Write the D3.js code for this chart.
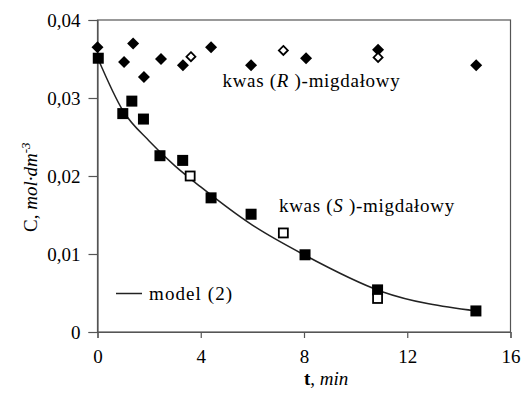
<!DOCTYPE html>
<html><head><meta charset="utf-8">
<script src="https://cdn.jsdelivr.net/npm/d3@7"></script>
<style>body{margin:0;background:#fff}svg{display:block}svg text{font-family:"Liberation Serif","Times New Roman",Times,"DejaVu Serif",serif !important;fill:#000}</style>
</head><body>
<svg id="c" width="523" height="405"></svg>
<script>
// R-mandelic acid, filled diamonds
const rT = [0, 1.03, 1.38, 1.8, 2.46, 3.31, 4.4, 5.95, 8.08, 10.87, 14.67];
const rC = [0.0365, 0.0346, 0.0370, 0.0327, 0.0350, 0.0342, 0.0365, 0.0342, 0.0351, 0.0362, 0.0342];
// R-mandelic acid, open diamonds
const rOpenT = [3.62, 7.2, 10.87];
const rOpenC = [0.0353, 0.0361, 0.0352];
// S-mandelic acid, filled squares
const sT = [0.03, 0.98, 1.33, 1.78, 2.42, 3.30, 4.4, 5.95, 8.04, 10.85, 14.66];
const sC = [0.0351, 0.0280, 0.0296, 0.0273, 0.0226, 0.0220, 0.0172, 0.0151, 0.0099, 0.0054, 0.0027];
// S-mandelic acid, open squares
const sOpenT = [3.59, 7.2, 10.85];
const sOpenC = [0.0200, 0.0127, 0.0043];
// model (2) curve
const mT = [0, 1, 2, 3, 4, 6, 8, 11, 14.66];
const mC = [0.0352, 0.0283, 0.0245, 0.0213, 0.0186, 0.0137, 0.0099, 0.0052, 0.0027];
const xTicks = [0, 4, 8, 12, 16];
const yTicks = [0, 0.01, 0.02, 0.03, 0.04];

const FONT = '"Liberation Serif", "Times New Roman", Times, "DejaVu Serif", serif';
const svg = d3.select("#c");
const L = 97.5, R = 510.5, T = 20, B = 332;
const x = d3.scaleLinear().domain([0, 16]).range([L, R]);
const y = d3.scaleLinear().domain([0, 0.04]).range([B, T]);
const fmt = d => d === 0 ? "0" : d3.format(".2f")(d).replace(".", ",");

// frame
svg.append("rect").attr("x", L).attr("y", T).attr("width", R - L).attr("height", B - T)
  .attr("fill", "none").attr("stroke", "#555").attr("stroke-width", 1.2);

const xa = svg.append("g").attr("transform", `translate(0,${B})`)
  .call(d3.axisBottom(x).tickValues(xTicks).tickSize(6).tickPadding(12).tickFormat(d3.format("d")));
const ya = svg.append("g").attr("transform", `translate(${L},0)`)
  .call(d3.axisLeft(y).tickValues(yTicks).tickSize(9).tickPadding(8).tickFormat(fmt));
[xa, ya].forEach(a => {
  a.attr("font-family", FONT);
  a.select(".domain").attr("stroke", "#555").attr("stroke-width", 1.2);
  a.selectAll(".tick line").attr("stroke", "#555").attr("stroke-width", 1.2);
  a.selectAll("text").attr("font-size", 19).style("font-family", FONT).attr("fill", "#000");
});

// model curve
const line = d3.line().x((d, i) => x(mT[i])).y((d, i) => y(mC[i])).curve(d3.curveMonotoneX);
svg.append("path").datum(mC).attr("d", line).attr("fill", "none").attr("stroke", "#222").attr("stroke-width", 1.5);

const g = svg.append("g");
g.selectAll(".sq").data(sC).join("rect")
  .attr("x", (d, i) => x(sT[i]) - 5.5).attr("y", d => y(d) - 5.5)
  .attr("width", 11).attr("height", 11).attr("fill", "#000");
g.selectAll(".osq").data(sOpenC).join("rect")
  .attr("x", (d, i) => x(sOpenT[i]) - 4.5).attr("y", d => y(d) - 4.5)
  .attr("width", 9).attr("height", 9).attr("fill", "#fff").attr("stroke", "#000").attr("stroke-width", 1.8);
const dia = (cx, cy, r) => `M${cx},${cy - r}L${cx + r},${cy}L${cx},${cy + r}L${cx - r},${cy}Z`;
g.selectAll(".dm").data(rC).join("path")
  .attr("d", (d, i) => dia(x(rT[i]), y(d), 6)).attr("fill", "#000");
g.selectAll(".odm").data(rOpenC).join("path")
  .attr("d", (d, i) => dia(x(rOpenT[i]), y(d), 4.5)).attr("fill", "#fff").attr("stroke", "#000").attr("stroke-width", 1.8);

function txt(xp, yp) {
  return svg.append("text").attr("x", xp).attr("y", yp).attr("font-size", 19).style("font-family", FONT);
}
function label(xp, yp, letter) {
  const t = txt(xp, yp).attr("letter-spacing", 0.7);
  t.append("tspan").text("kwas (");
  t.append("tspan").attr("font-style", "italic").text(letter);
  t.append("tspan").text(" )-migdałowy");
}
label(222.5, 86.5, "R");
label(279, 212, "S");

svg.append("line").attr("x1", 116).attr("x2", 142).attr("y1", 293.5).attr("y2", 293.5).attr("stroke", "#222").attr("stroke-width", 1.5);
txt(149, 299.5).attr("letter-spacing", 1.1).text("model (2)");

const xt = txt(304, 385);
xt.append("tspan").attr("font-weight", "bold").text("t");
xt.append("tspan").text(", ");
xt.append("tspan").attr("font-style", "italic").text("min");

const yt = svg.append("text").attr("transform", "translate(37,232) rotate(-90)").attr("font-size", 19).style("font-family", FONT);
yt.append("tspan").text("C, ");
yt.append("tspan").attr("font-style", "italic").text("mol·dm");
yt.append("tspan").attr("font-style", "italic").attr("font-size", 13).attr("dy", -7).text("-3");
</script>
</body></html>
